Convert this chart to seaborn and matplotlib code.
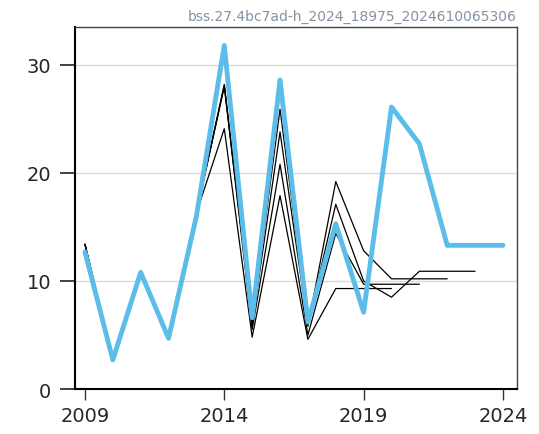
import numpy as np
import pandas as pd
import matplotlib
matplotlib.use("Agg")
import matplotlib.pyplot as plt
import seaborn as sns

# ── data ────────────────────────────────────────────────────────────────────
years = list(range(2009, 2025))

# current assessment (blue)
current = [12.7, 2.7, 10.8, 4.7, 16.0, 31.8, 6.6, 28.6, 6.2, 15.3, 7.1,
           26.1, 22.7, 13.3, 13.3, 13.3]

# retrospective peels (black), each ends one year earlier
peel_2023 = [13.4, 2.6, 10.8, 4.7, 16.3, 28.0, 6.3, 25.9, 6.0, 17.1, 10.0,
             8.5, 10.9, 10.9, 10.9]
peel_2022 = [13.4, 2.6, 10.8, 4.7, 16.3, 28.2, 6.0, 23.8, 5.8, 19.2, 12.8,
             10.2, 10.2, 10.2]
peel_2021 = [13.4, 2.6, 10.8, 4.7, 16.3, 28.1, 5.5, 20.8, 5.0, 14.4, 9.7,
             9.7, 9.7]
peel_2020 = [13.4, 2.6, 10.8, 4.7, 16.3, 24.1, 4.8, 17.9, 4.6, 9.3, 9.3,
             9.3]

peels = {"2023": peel_2023, "2022": peel_2022,
         "2021": peel_2021, "2020": peel_2020}

run_label = "bss.27.4bc7ad-h_2024_18975_2024610065306"

# long-form tables for seaborn
df_cur = pd.DataFrame({"year": years, "value": current})
df_peel = pd.concat(
    [pd.DataFrame({"year": years[:len(v)], "value": v, "run": k})
     for k, v in peels.items()],
    ignore_index=True,
)

# ── plot ────────────────────────────────────────────────────────────────────
sns.set_style("white")
plt.rcParams["font.family"] = ["DejaVu Sans"]

fig = plt.figure(figsize=(5.39, 4.35), dpi=100)
ax = fig.add_axes([0.139, 0.1034, 0.820, 0.832])

ax.yaxis.grid(True, color="#d9d9d9", linewidth=1.0)
ax.set_axisbelow(True)

sns.lineplot(data=df_peel, x="year", y="value", units="run", estimator=None,
             color="black", linewidth=0.9, ax=ax, legend=False)
sns.lineplot(data=df_cur, x="year", y="value", color="#5bbde9",
             linewidth=3.5, ax=ax, legend=False)

ax.set_xlim(2008.64, 2024.5)
ax.set_ylim(0, 33.5)
ax.set_xticks([2009, 2014, 2019, 2024])
ax.set_yticks([0, 10, 20, 30])
ax.set_xlabel("")
ax.set_ylabel("")

ax.tick_params(axis="x", bottom=True, direction="out", length=8, width=1.0,
               color="#333333", labelsize=14, pad=4)
ax.tick_params(axis="y", left=True, direction="out", length=11, width=1.3,
               color="#333333", labelsize=14, pad=6)

for side in ["left", "bottom"]:
    ax.spines[side].set_color("black")
    ax.spines[side].set_linewidth(1.5)
for side in ["top", "right"]:
    ax.spines[side].set_color("#444444")
    ax.spines[side].set_linewidth(1.0)

ax.set_title(run_label, loc="right", fontsize=10, color="#8492a3", pad=5)

fig.savefig("out.png", dpi=100)
